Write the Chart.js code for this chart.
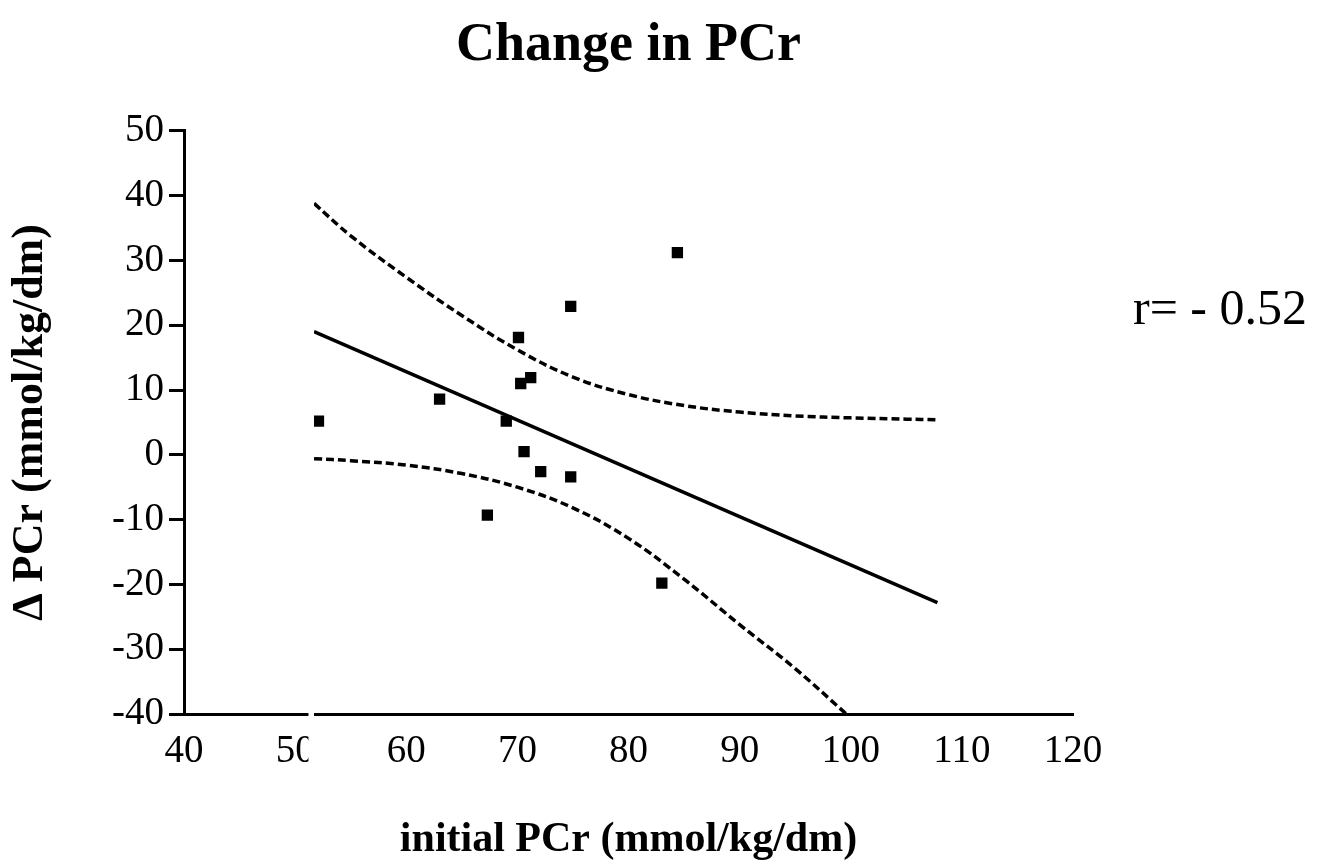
<!DOCTYPE html>
<html>
<head>
<meta charset="utf-8">
<script src="https://cdn.jsdelivr.net/npm/chart.js@4.4.1/dist/chart.umd.min.js"></script>
<style>
    body { margin: 0; background: #fff; }
    #wrap { width: 1332px; height: 865px; }
</style>
</head>
<body>
<div id="wrap"><canvas id="pcr-chart"></canvas></div>
<script>
// measured points: initial PCr vs change in PCr
const initialPCr = [52.1, 63.0, 67.3, 69.0, 70.1, 70.3, 71.2, 70.6, 72.1, 74.8, 74.8, 84.4, 83.0]
const deltaPCr = [5.2, 8.6, -9.3, 5.2, 18.1, 11.0, 11.9, 0.5, -2.6, 22.9, -3.4, 31.2, -19.8]

// regression line end points
const fitX = [51.7, 107.8]
const fitY = [19.0, -22.8]

// confidence band
const upperX = [51.7, 55, 60, 65, 70, 75, 80, 85, 90, 95, 100, 105, 107.7]
const upperY = [38.8, 33.8, 27.4, 21.5, 16.2, 12.0, 9.3, 7.6, 6.6, 6.0, 5.7, 5.5, 5.4]
const lowerX = [51.7, 55, 60, 65, 70, 75, 80, 85, 90, 95, 99.6]
const lowerY = [-0.6, -0.9, -1.6, -2.9, -5.0, -8.2, -12.9, -19.2, -26.2, -33.0, -40.0]

const xTicks = [40, 50, 60, 70, 80, 90, 100, 110, 120]
const yTicks = [-40, -30, -20, -10, 0, 10, 20, 30, 40, 50]

const serif = "'Liberation Serif', 'Times New Roman', serif"

function toPoints(xs, ys) {
    return xs.map((x, i) => ({x: x, y: ys[i]}))
}

// white break in the x axis just right of 50
const axisBreak = {
    id: 'axisBreak',
    afterDraw(chart) {
        const ctx = chart.ctx
        const x = chart.scales.x
        const left = x.getPixelForValue(51.2)
        const right = x.getPixelForValue(51.7)
        ctx.save()
        ctx.fillStyle = '#fff'
        ctx.fillRect(left, chart.chartArea.top - 5, right - left, chart.chartArea.bottom - chart.chartArea.top + 60)
        ctx.restore()
    }
}

const rLabel = {
    id: 'rLabel',
    afterDraw(chart) {
        const ctx = chart.ctx
        ctx.save()
        ctx.font = '50px ' + serif
        ctx.fillStyle = '#000'
        ctx.textBaseline = 'middle'
        ctx.textAlign = 'left'
        ctx.fillText('r= - 0.52', chart.chartArea.right + 60, chart.scales.y.getPixelForValue(22.2))
        ctx.restore()
    }
}

const pcrChart = new Chart(document.getElementById('pcr-chart'), {
    type: 'scatter',
    data: {
        datasets: [
            {
                label: 'subjects',
                data: toPoints(initialPCr, deltaPCr),
                pointStyle: 'rect',
                pointRadius: 8,
                backgroundColor: '#000',
                borderColor: '#000',
                borderWidth: 0,
                showLine: false
            },
            {
                label: 'fit',
                data: toPoints(fitX, fitY),
                showLine: true,
                pointRadius: 0,
                borderColor: '#000',
                borderWidth: 3.5
            },
            {
                label: 'upper',
                data: toPoints(upperX, upperY),
                showLine: true,
                pointRadius: 0,
                borderColor: '#000',
                borderWidth: 3.5,
                borderDash: [8, 4],
                tension: 0.4
            },
            {
                label: 'lower',
                data: toPoints(lowerX, lowerY),
                showLine: true,
                pointRadius: 0,
                borderColor: '#000',
                borderWidth: 3.5,
                borderDash: [8, 4],
                tension: 0.4
            }
        ]
    },
    options: {
        responsive: true,
        maintainAspectRatio: false,
        animation: false,
        layout: {
            padding: {left: 0, right: 259, top: 0, bottom: 0}
        },
        scales: {
            x: {
                type: 'linear',
                min: 40,
                max: 120,
                afterBuildTicks: s => { s.ticks = xTicks.map(v => ({value: v})) },
                afterFit: s => { s.height = 151 },
                grid: {display: false},
                border: {display: true, color: '#000', width: 3},
                ticks: {
                    color: '#000',
                    padding: 6,
                    font: {family: serif, size: 39}
                },
                title: {
                    display: true,
                    text: 'initial PCr (mmol/kg/dm)',
                    color: '#000',
                    padding: {top: 10, bottom: 0},
                    font: {family: serif, size: 42, weight: 'bold'}
                }
            },
            y: {
                type: 'linear',
                min: -40,
                max: 50,
                afterBuildTicks: s => { s.ticks = yTicks.map(v => ({value: v})) },
                afterFit: s => { s.width = 184 },
                grid: {
                    drawOnChartArea: false,
                    drawTicks: true,
                    tickLength: 15,
                    tickWidth: 3,
                    tickColor: '#000'
                },
                border: {display: true, color: '#000', width: 3},
                ticks: {
                    color: '#000',
                    padding: 5,
                    font: {family: serif, size: 39}
                },
                title: {
                    display: true,
                    text: '\u0394 PCr (mmol/kg/dm)',
                    color: '#000',
                    padding: {top: 4, bottom: 0},
                    font: {family: serif, size: 44, weight: 'bold'}
                }
            }
        },
        plugins: {
            legend: {display: false},
            tooltip: {enabled: false},
            title: {
                display: true,
                text: 'Change in PCr',
                color: '#000',
                fullSize: false,
                padding: {top: 14, bottom: 52},
                font: {family: serif, size: 54, weight: 'bold'}
            }
        }
    },
    plugins: [axisBreak, rLabel]
})
</script>
</body>
</html>
